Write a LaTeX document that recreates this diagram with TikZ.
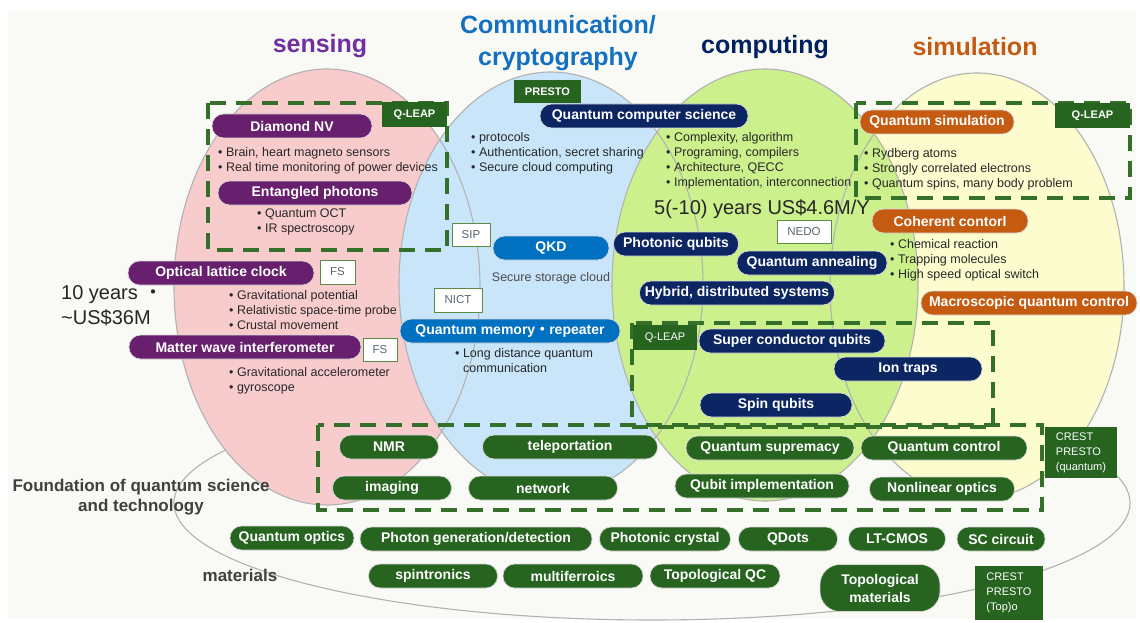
\documentclass[tikz,border=0pt]{standalone}
\usepackage{fontspec}
\setmainfont{Liberation Sans}
\newfontfamily\cjk{Noto Sans CJK JP}
\usetikzlibrary{shapes.misc}
\definecolor{bgc}{RGB}{249,249,246}
\definecolor{pinkf}{RGB}{248,203,205}
\definecolor{bluef}{RGB}{200,229,250}
\definecolor{greenf}{RGB}{204,240,140}
\definecolor{yellowf}{RGB}{252,252,206}
\definecolor{ellline}{RGB}{178,178,178}
\definecolor{purp}{RGB}{104,32,110}
\definecolor{navy}{RGB}{12,38,100}
\definecolor{qblue}{RGB}{0,112,192}
\definecolor{orng}{RGB}{197,90,17}
\definecolor{dgreen}{RGB}{38,100,32}
\definecolor{dashc}{RGB}{52,112,42}
\definecolor{txt}{RGB}{40,40,40}
\definecolor{titpurple}{RGB}{112,48,160}
\definecolor{titblue}{RGB}{20,112,192}
\definecolor{titnavy}{RGB}{0,32,96}
\definecolor{titorange}{RGB}{197,90,17}
\definecolor{lblgray}{RGB}{90,100,110}
\definecolor{lblborder}{RGB}{90,140,70}
\definecolor{foundtxt}{RGB}{64,64,64}
\begin{document}
\begin{tikzpicture}[x=1pt,y=-1pt,
  pill/.style={draw=white!70!gray, line width=0.7pt, rounded corners=11.5pt, minimum height=24pt, inner sep=0pt, text=white, font=\bfseries\fontsize{14}{16}\selectfont},
  tag/.style={fill=dgreen, text=white, inner sep=0pt, font=\bfseries\fontsize{11}{13}\selectfont},
  lbl/.style={draw=lblborder, line width=1pt, fill=white, text=lblgray, inner sep=0pt, font=\fontsize{11.5}{13}\selectfont},
  bul/.style={anchor=north west, align=left, inner sep=0pt, text=txt, font=\fontsize{12.5}{15}\selectfont},
  title/.style={inner sep=0pt, font=\bfseries\fontsize{25}{32}\selectfont},
  dashbox/.style={draw=dashc, line width=3.5pt, dash pattern=on 16pt off 10pt},
  ell/.style={draw=ellline, line width=1.1pt}
]
\useasboundingbox (0,0) rectangle (1140,623);
\fill[white] (0,0) rectangle (1140,623);
\fill[bgc] (8,11) rectangle (1136,619);
% foundation ellipse
\draw[ell] (652,503) ellipse [x radius=478pt, y radius=117pt];
% colored ellipses
\fill[pinkf] (327,287) ellipse [x radius=153pt, y radius=218pt];
\fill[bluef] (551,284) ellipse [x radius=152pt, y radius=212pt];
\fill[yellowf] (977,286) ellipse [x radius=147pt, y radius=213pt];
\fill[greenf] (765,285) ellipse [x radius=153pt, y radius=216pt];
\draw[ell] (327,287) ellipse [x radius=153pt, y radius=218pt];
\draw[ell] (551,284) ellipse [x radius=152pt, y radius=212pt];
\draw[ell] (977,286) ellipse [x radius=147pt, y radius=213pt];
\draw[ell] (765,285) ellipse [x radius=153pt, y radius=216pt];
% titles
\node[title, text=titpurple] (tsens) at (320,46) {sensing};
\node[title, text=titblue, align=center] (tcomm) at (558,43) {Communication/\\cryptography};
\node[title, text=titnavy] (tcomp) at (765,47) {computing};
\node[title, text=titorange] (tsim) at (975,47) {simulation};
% dashed boxes
\draw[dashbox] (208,103) rectangle (447,250);
\draw[dashbox] (856,103) rectangle (1130,198);
\draw[dashbox] (632,323) rectangle (993,427);
\draw[dashbox] (318,425) rectangle (1042,510);
% sensing
\node[tag, minimum width=65pt, minimum height=25pt] (ql1) at (414.5,114.5) {Q-LEAP};
\node[pill, fill=purp, minimum width=160pt] (dnv) at (292,126) {Diamond NV};
\node[bul] (b1) at (218,147) {• Brain, heart magneto sensors\\• Real time monitoring of power devices};
\node[pill, fill=purp, minimum width=194pt] (ent) at (315,193) {Entangled photons};
\node[bul] (b2) at (257,209) {• Quantum OCT\\• IR spectroscopy};
\node[pill, fill=purp, minimum width=186pt] (olc) at (221,273) {Optical lattice clock};
\node[lbl, minimum width=35pt, minimum height=24pt] (fs1) at (337.5,272) {FS};
\node[bul] (b3) at (229,290) {• Gravitational potential\\• Relativistic space-time probe\\• Crustal movement};
\node[pill, fill=purp, minimum width=232pt] (mwi) at (245,347) {Matter wave interferometer};
\node[lbl, minimum width=34pt, minimum height=23pt] (fs2) at (380,349.5) {FS};
\node[bul] (b4) at (229,367) {• Gravitational accelerometer\\• gyroscope};
\node[anchor=west, align=left, inner sep=0pt, text=black!85, font=\fontsize{20}{25}\selectfont] (m1) at (61,306) {10 years {\cjk ・}\\\textasciitilde US\$36M};
% communication
\node[tag, minimum width=67pt, minimum height=23pt] (presto) at (547.5,91.5) {PRESTO};
\node[pill, fill=navy, minimum width=208pt] (qcs) at (644,116) {Quantum computer science};
\node[bul] (b5) at (471,132) {• protocols\\• Authentication, secret sharing\\• Secure cloud computing};
\node[lbl, minimum width=38pt, minimum height=23pt] (sip) at (471,234.5) {SIP};
\node[pill, fill=qblue, minimum width=116pt] (qkd) at (551,248) {QKD};
\node[inner sep=0pt, text=black!70, font=\fontsize{12.5}{15}\selectfont] (ssc) at (551,278) {Secure storage cloud};
\node[lbl, minimum width=48pt, minimum height=24pt] (nict) at (458,300) {NICT};
\node[pill, fill=qblue, minimum width=220pt] (qmr) at (510,331) {Quantum memory{\cjk ・}repeater};
\node[bul] (b6) at (455,348) {• Long distance quantum\\\phantom{• }communication};
% computing
\node[bul] (b7) at (666,132) {• Complexity, algorithm\\• Programing, compilers\\• Architecture, QECC\\• Implementation, interconnection};
\node[inner sep=0pt, text=black!85, font=\fontsize{20}{24}\selectfont] (m2) at (762,209) {5(-10) years US\$4.6M/Y};
\node[lbl, minimum width=54pt, minimum height=23pt] (nedo) at (804,231.5) {NEDO};
\node[pill, fill=navy, minimum width=125pt] (phq) at (676,244) {Photonic qubits};
\node[pill, fill=navy, minimum width=150pt] (qan) at (812,263) {Quantum annealing};
\node[pill, fill=navy, minimum width=195pt] (hyb) at (737,293) {Hybrid, distributed systems};
\node[tag, font=\fontsize{11}{13}\selectfont, minimum width=64pt, minimum height=25pt] (ql3) at (665,337.5) {Q-LEAP};
\node[pill, fill=navy, minimum width=186pt] (scq) at (792,341) {Super conductor qubits};
\node[pill, fill=navy, minimum width=148pt] (ion) at (908,369) {Ion traps};
\node[pill, fill=navy, minimum width=152pt] (spin) at (776,405) {Spin qubits};
% simulation
\node[tag, minimum width=75pt, minimum height=25pt] (ql2) at (1092.5,115.5) {Q-LEAP};
\node[pill, fill=orng, minimum width=154pt] (qsim) at (937,122) {Quantum simulation};
\node[bul] (b8) at (864,148) {• Rydberg atoms\\• Strongly correlated electrons\\• Quantum spins, many body problem};
\node[pill, fill=orng, minimum width=156pt] (coh) at (950,221) {Coherent contorl};
\node[bul] (b9) at (890,239) {• Chemical reaction\\• Trapping molecules\\• High speed optical switch};
\node[pill, fill=orng, minimum width=216pt] (mqc) at (1029,303) {Macroscopic quantum control};
% foundation
\node[align=center, inner sep=0pt, text=foundtxt, font=\bfseries\fontsize{17}{20}\selectfont] (fnd) at (141,497) {Foundation of quantum science\\and technology};
\node[inner sep=0pt, text=foundtxt, font=\bfseries\fontsize{17}{20}\selectfont] (mat) at (240,575) {materials};
\node[pill, fill=dgreen, minimum width=99pt] (nmr) at (389,447) {NMR};
\node[pill, fill=dgreen, minimum width=175pt] (tele) at (570,447) {teleportation};
\node[pill, fill=dgreen, minimum width=168pt] (qsup) at (770,448) {Quantum supremacy};
\node[pill, fill=dgreen, minimum width=166pt] (qctl) at (944,448) {Quantum control};
\node[pill, fill=dgreen, minimum width=119pt] (img) at (392,488) {imaging};
\node[pill, fill=dgreen, minimum width=149pt] (net) at (543,488) {network};
\node[pill, fill=dgreen, minimum width=174pt] (qimp) at (762,486) {Qubit implementation};
\node[pill, fill=dgreen, minimum width=145pt] (nlo) at (942,489) {Nonlinear optics};
\node[tag, align=left, font=\fontsize{11}{15}\selectfont, minimum width=72pt, minimum height=51pt] (cr1) at (1081,452.5) {CREST\\PRESTO\\(quantum)};
\node[pill, fill=dgreen, minimum width=124pt] (qopt) at (292,538) {Quantum optics};
\node[pill, fill=dgreen, minimum width=232pt] (phg) at (476,539) {Photon generation/detection};
\node[pill, fill=dgreen, minimum width=131pt] (phc) at (665,539) {Photonic crystal};
\node[pill, fill=dgreen, minimum width=99pt] (qd) at (788,539) {QDots};
\node[pill, fill=dgreen, minimum width=97pt] (ltc) at (897,539) {LT-CMOS};
\node[pill, fill=dgreen, minimum width=88pt] (scc) at (1001,539) {SC circuit};
\node[pill, fill=dgreen, minimum width=129pt] (spt) at (433,576) {spintronics};
\node[pill, fill=dgreen, minimum width=140pt] (mfe) at (573,576) {multiferroics};
\node[pill, fill=dgreen, minimum width=130pt] (tqc) at (715,576) {Topological QC};
\node[pill, fill=dgreen, align=center, rounded corners=20pt, minimum width=120pt, minimum height=47pt, font=\bfseries\fontsize{14}{18}\selectfont] (tmat) at (880,588) {Topological\\materials};
\node[tag, align=left, font=\fontsize{11}{15}\selectfont, minimum width=68pt, minimum height=54pt] (cr2) at (1009,593) {CREST\\PRESTO\\(Top)o};
\end{tikzpicture}
\end{document}
